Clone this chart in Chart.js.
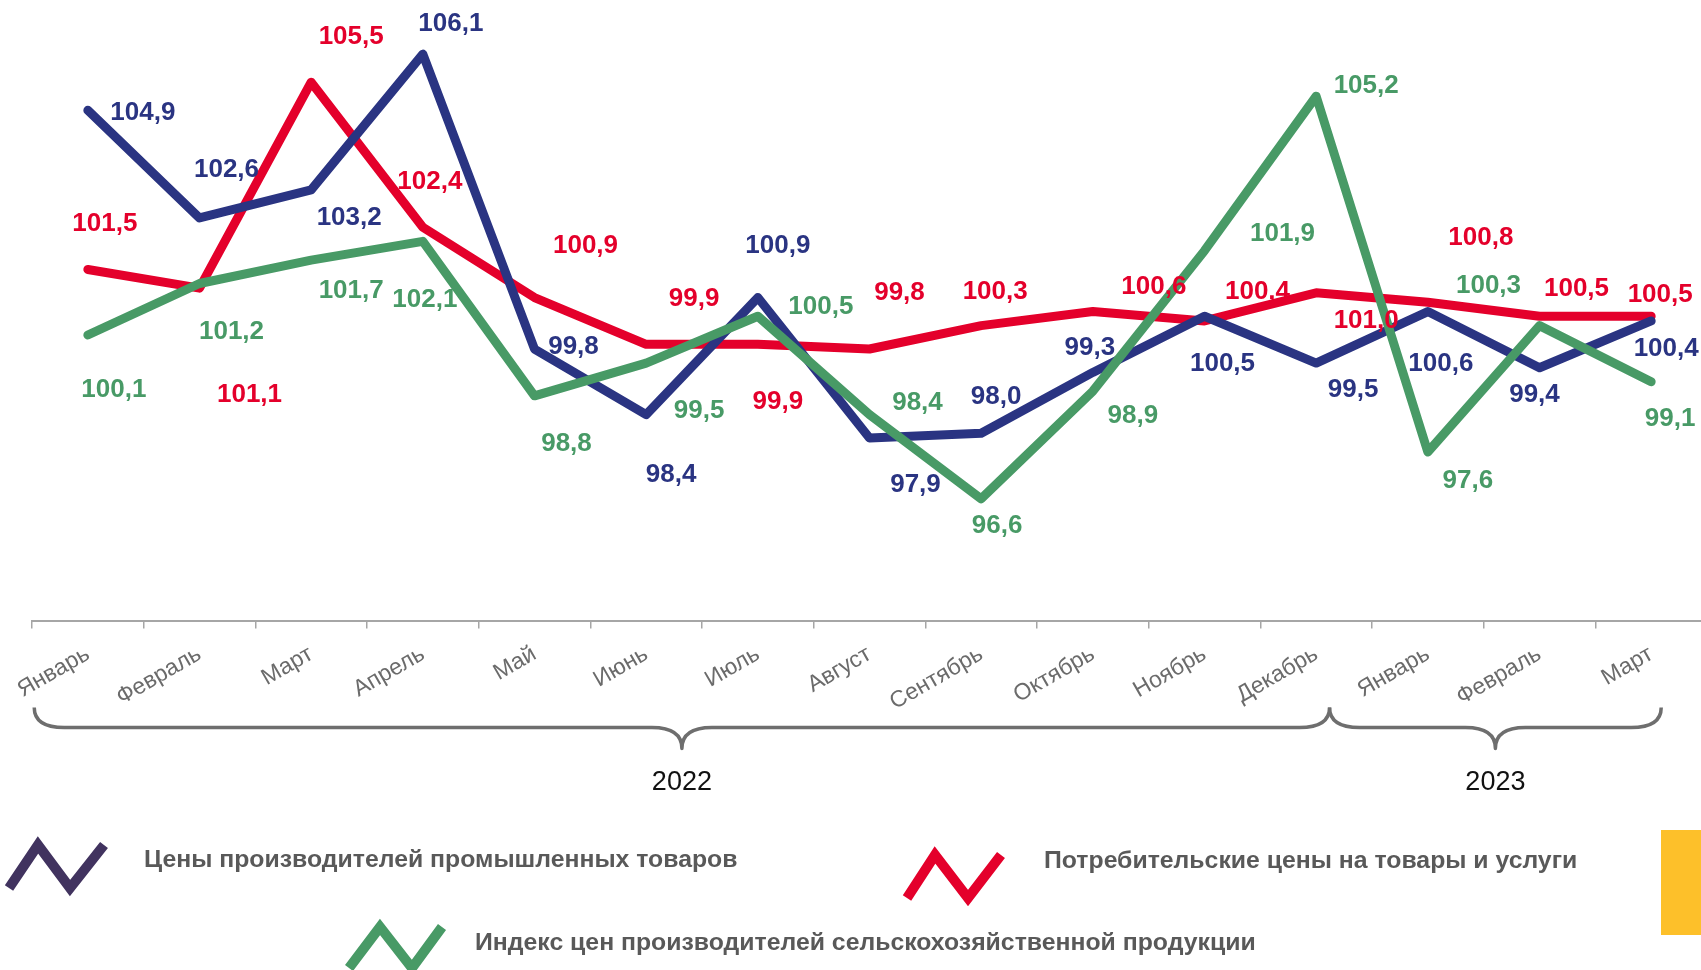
<!DOCTYPE html>
<html lang="ru">
<head>
<meta charset="utf-8">
<title>Индексы цен</title>
<script src="https://cdn.jsdelivr.net/npm/chart.js@4.4.0/dist/chart.umd.min.js"></script>
<style>
  html, body { margin: 0; padding: 0; background: #fff; overflow: hidden; }
  #wrap { position: relative; width: 1701px; height: 970px; overflow: hidden; }
  #chart { position: absolute; left: 0; top: 0; }
  #icons { position: absolute; left: 0; top: 0; }
  .leg { position: absolute; transform: translateY(-50%); font: bold 24.8px "Liberation Sans", Arial, sans-serif;
         color: #595959; white-space: nowrap; line-height: 30px; }
  #tab { position: absolute; left: 1661px; top: 830px; width: 60px; height: 105px; background: #fdc02a; }
</style>
</head>
<body>
<div id="wrap">
  <canvas id="chart" width="1720" height="970"></canvas>
  <svg id="icons" width="1701" height="970"></svg>
  <div id="tab"></div>
</div>
<script>
// ---------- data ----------
const months = ["Январь", "Февраль", "Март", "Апрель", "Май", "Июнь", "Июль", "Август",
  "Сентябрь", "Октябрь", "Ноябрь", "Декабрь", "Январь", "Февраль", "Март"];
const industrial = [104.9, 102.6, 103.2, 106.1, 99.8, 98.4, 100.9, 97.9, 98.0, 99.3, 100.5, 99.5, 100.6, 99.4, 100.4];
const consumer = [101.5, 101.1, 105.5, 102.4, 100.9, 99.9, 99.9, 99.8, 100.3, 100.6, 100.4, 101.0, 100.8, 100.5, 100.5];
const agricultural = [100.1, 101.2, 101.7, 102.1, 98.8, 99.5, 100.5, 98.4, 96.6, 98.9, 101.9, 105.2, 97.6, 100.3, 99.1];
const years = ["2022", "2023"];
// year braces, in category index units
const yearSpans = [[-0.48, 11.12], [11.12, 14.09]];
const seriesNames = [
  "Цены производителей промышленных товаров",
  "Потребительские цены на товары и услуги",
  "Индекс цен производителей сельскохозяйственной продукции",
];

// ---------- styling ----------
const BLUE = "#2a3482", RED = "#e4002b", GREEN = "#489a66";
const FONT = '"Liberation Sans", Arial, sans-serif';

// value label offsets from each point [dx, dy], px
const labelOffsets = [
  [[55, 1], [27, -50], [38, 26], [28, -32], [39, -4], [25, 58], [20, -54], [46, 45],
   [15, -38], [-3, -26], [18, 46], [37, 25], [13, 50], [-5, 25], [15, 26]],
  [[17, -47], [50, 105], [40, -47], [7, -47], [51, -54], [48, -47], [20, 56], [30, -58],
   [14, -36], [61, -27], [53, -31], [50, 26], [53, -66], [37, -29], [9, -23]],
  [[26, 53], [32, 47], [40, 29], [2, 57], [32, 46], [53, 46], [63, -11], [48, -14],
   [16, 25], [40, 23], [78, -19], [50, -12], [40, 27], [-51, -42], [19, 35]],
];

// legend layout: zigzag icon points and text anchor
const legendLayout = [
  { color: "#41335f", icon: [[9, 888], [38, 845], [70, 888], [104, 845]], text: [144, 859] },
  { color: RED, icon: [[907, 898], [935, 855], [968, 898], [1001, 855]], text: [1044, 860] },
  { color: GREEN, icon: [[349, 968], [380, 927], [412, 968], [442, 927]], text: [475, 942] },
];

const fmt = (v) => v.toFixed(1).replace(".", ",");

// draws value labels next to every point
const valueLabels = {
  id: "valueLabels",
  afterDatasetsDraw(chart) {
    const ctx = chart.ctx;
    ctx.save();
    ctx.font = "bold 26px " + FONT;
    ctx.textAlign = "center";
    ctx.textBaseline = "alphabetic";
    chart.data.datasets.forEach((ds, i) => {
      chart.getDatasetMeta(i).data.forEach((pt, j) => {
        const [dx, dy] = labelOffsets[i][j];
        ctx.fillStyle = ds.borderColor;
        ctx.fillText(fmt(ds.data[j]), pt.x + dx, pt.y + dy + 9);
      });
    });
    ctx.restore();
  },
};

// curly braces with year under the month axis
const yearBraces = {
  id: "yearBraces",
  afterDraw(chart) {
    const ctx = chart.ctx;
    const x = chart.scales.x;
    const base = chart.chartArea.bottom;
    const yTop = base + 87, yLine = base + 107, yTip = base + 128, rx = 30;
    ctx.save();
    ctx.strokeStyle = "#6e6e6e";
    ctx.lineWidth = 3.5;
    ctx.lineJoin = "round";
    yearSpans.forEach(([a, b], k) => {
      const x1 = x.getPixelForValue(a), x2 = x.getPixelForValue(b);
      const xm = (x1 + x2) / 2;
      ctx.beginPath();
      ctx.moveTo(x1, yTop);
      ctx.quadraticCurveTo(x1, yLine, x1 + rx, yLine);
      ctx.lineTo(xm - rx, yLine);
      ctx.quadraticCurveTo(xm, yLine, xm, yTip);
      ctx.quadraticCurveTo(xm, yLine, xm + rx, yLine);
      ctx.lineTo(x2 - rx, yLine);
      ctx.quadraticCurveTo(x2, yLine, x2, yTop);
      ctx.stroke();

      ctx.fillStyle = "#111";
      ctx.font = "27px " + FONT;
      ctx.textAlign = "center";
      ctx.textBaseline = "alphabetic";
      ctx.fillText(years[k], xm, base + 159 + 10);
    });
    ctx.restore();
  },
};

const lineSet = (label, data, color, order) => ({
  label, data, order,
  borderColor: color,
  backgroundColor: color,
  borderWidth: 9,
  borderJoinStyle: "round",
  borderCapStyle: "round",
  pointRadius: 0,
  tension: 0,
});

const chart = new Chart(document.getElementById("chart").getContext("2d"), {
  type: "line",
  data: {
    labels: months,
    datasets: [
      lineSet(seriesNames[0], industrial, BLUE, 1),
      lineSet(seriesNames[1], consumer, RED, 2),
      lineSet(seriesNames[2], agricultural, GREEN, 0),
    ],
  },
  options: {
    responsive: false,
    animation: false,
    layout: { padding: { left: 32, right: 13, top: 12, bottom: 0 } },
    plugins: { legend: { display: false }, tooltip: { enabled: false } },
    scales: {
      y: { display: false, min: 94, max: 107 },
      x: {
        offset: true,
        grid: { offset: true, drawOnChartArea: false, tickLength: 8, color: "#a6a6a6", lineWidth: 1.5 },
        border: { color: "#a6a6a6", width: 2 },
        ticks: { minRotation: 30, maxRotation: 30, padding: 12, color: "#6b6b6b", font: { family: FONT, size: 23 } },
        afterFit: (s) => { s.height = 349.5; },
      },
    },
  },
  plugins: [valueLabels, yearBraces],
});

// ---------- legend ----------
const svg = document.getElementById("icons");
const wrap = document.getElementById("wrap");
legendLayout.forEach((item, i) => {
  const pl = document.createElementNS("http://www.w3.org/2000/svg", "polyline");
  pl.setAttribute("points", item.icon.map((p) => p.join(",")).join(" "));
  pl.setAttribute("fill", "none");
  pl.setAttribute("stroke", item.color);
  pl.setAttribute("stroke-width", "10");
  pl.setAttribute("stroke-linejoin", "miter");
  svg.appendChild(pl);

  const t = document.createElement("div");
  t.className = "leg";
  t.style.left = item.text[0] + "px";
  t.style.top = item.text[1] + "px";
  t.textContent = seriesNames[i];
  wrap.appendChild(t);
});
</script>
</body>
</html>
